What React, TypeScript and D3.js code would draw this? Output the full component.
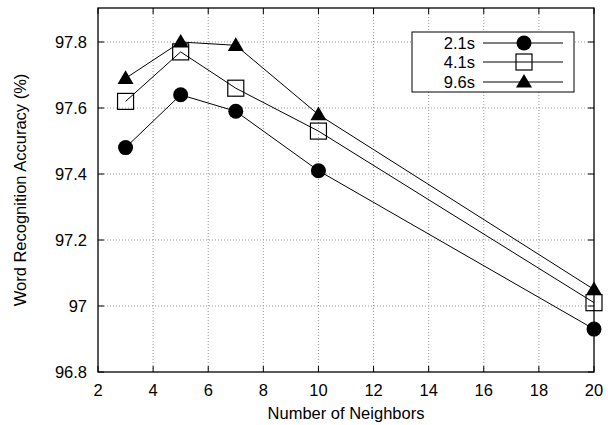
import * as d3 from 'd3';

const neighbors = [3, 5, 7, 10, 20];
const acc21 = [97.48, 97.64, 97.59, 97.41, 96.93];
const acc41 = [97.62, 97.77, 97.66, 97.53, 97.01];
const acc96 = [97.69, 97.8, 97.79, 97.58, 97.05];
const seriesNames = ['2.1s', '4.1s', '9.6s'];
const xTicks = [2, 4, 6, 8, 10, 12, 14, 16, 18, 20];
const yTicks = [96.8, 97, 97.2, 97.4, 97.6, 97.8];

const W = 608;
const H = 425;
const left = 98;
const right = 594;
const top = 8;
const bottom = 372;
const font = 'Liberation Sans, Arial, Helvetica, sans-serif';
const fs = 16.5;

const x = d3.scaleLinear().domain([2, 20]).range([left, right]);
const y = d3.scaleLinear().domain([96.8, 97.8]).range([bottom, bottom - 330]);

const lineGen = d3
  .line<number>()
  .x((_, i) => x(neighbors[i]))
  .y((d) => y(d));

const Marker = ({ kind, cx, cy }: { kind: number; cx: number; cy: number }) => {
  if (kind === 0) return <circle cx={cx} cy={cy} r={7.5} fill="#000" />;
  if (kind === 1)
    return <rect x={cx - 8} y={cy - 8} width={16} height={16} fill="none" stroke="#000" strokeWidth={1.2} />;
  const s = 8;
  return (
    <path
      d={`M${cx},${cy - s}L${cx + s},${cy + s * 0.7}L${cx - s},${cy + s * 0.7}Z`}
      fill="#000"
    />
  );
};

export default function App() {
  const series = [acc21, acc41, acc96];
  const legendRows = [43, 62, 82];
  return (
    <svg width={W} height={H} style={{ display: 'block', position: 'absolute', left: 0, top: 0 }}>
      <rect width={W} height={H} fill="#fff" />
      {/* grid */}
      {xTicks.slice(1, -1).map((t) => (
        <line key={'gx' + t} x1={x(t)} x2={x(t)} y1={top} y2={bottom} stroke="#999" strokeWidth={1} strokeDasharray="1,2" />
      ))}
      {yTicks.slice(1).map((t) => (
        <line key={'gy' + t} x1={left} x2={right} y1={y(t)} y2={y(t)} stroke="#999" strokeWidth={1} strokeDasharray="1,2" />
      ))}
      {/* ticks */}
      {xTicks.map((t) => (
        <g key={'tx' + t}>
          <line x1={x(t)} x2={x(t)} y1={bottom} y2={bottom - 6} stroke="#000" />
          <line x1={x(t)} x2={x(t)} y1={top} y2={top + 6} stroke="#000" />
          <text x={x(t)} y={396} textAnchor="middle" fontFamily={font} fontSize={fs}>
            {t}
          </text>
        </g>
      ))}
      {yTicks.map((t) => (
        <g key={'ty' + t}>
          <line x1={left} x2={left + 6} y1={y(t)} y2={y(t)} stroke="#000" />
          <line x1={right} x2={right - 6} y1={y(t)} y2={y(t)} stroke="#000" />
          <text x={87} y={y(t) + 6} textAnchor="end" fontFamily={font} fontSize={fs}>
            {d3.format('~g')(t)}
          </text>
        </g>
      ))}
      <rect x={left} y={top} width={right - left} height={bottom - top} fill="none" stroke="#000" strokeWidth={1.3} />
      {/* series */}
      {series.map((s, k) => (
        <g key={'s' + k}>
          <path d={lineGen(s) || ''} fill="none" stroke="#000" strokeWidth={1} />
          {s.map((v, i) => (
            <Marker key={i} kind={k} cx={x(neighbors[i])} cy={y(v)} />
          ))}
        </g>
      ))}
      {/* legend */}
      <rect x={412} y={32} width={162} height={60} fill="#fff" stroke="#000" strokeWidth={1} />
      {seriesNames.map((n, k) => (
        <g key={'l' + k}>
          <text x={475} y={legendRows[k] + 6} textAnchor="end" fontFamily={font} fontSize={fs}>
            {n}
          </text>
          <line x1={483} x2={563} y1={legendRows[k]} y2={legendRows[k]} stroke="#000" />
          <Marker kind={k} cx={524} cy={legendRows[k]} />
        </g>
      ))}
      <text x={346} y={419} textAnchor="middle" fontFamily={font} fontSize={fs}>
        Number of Neighbors
      </text>
      <text
        transform={`translate(26,${(top + bottom) / 2}) rotate(-90)`}
        textAnchor="middle"
        fontFamily={font}
        fontSize={fs}
      >
        Word Recognition Accuracy (%)
      </text>
    </svg>
  );
}
